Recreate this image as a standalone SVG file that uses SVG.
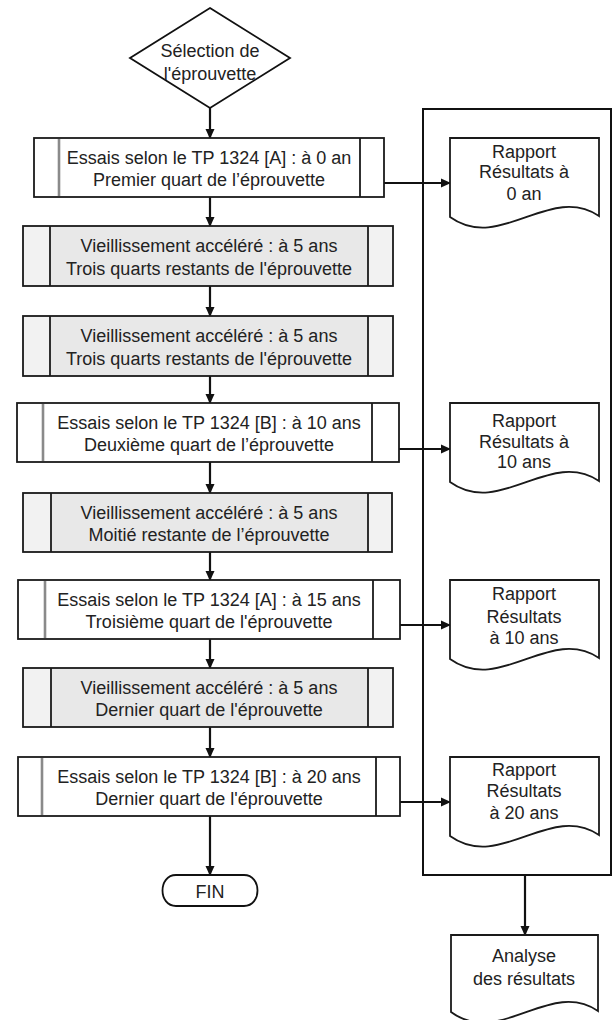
<svg xmlns="http://www.w3.org/2000/svg" width="616" height="1020" viewBox="0 0 616 1020">
<defs>
<style>
text{font-family:"Liberation Sans",Arial,sans-serif;font-size:18px;fill:#222;text-anchor:middle}
.outer{stroke:#1a1a1a;stroke-width:1.8}
.essai{fill:#fff}
.vieil{fill:#e8e8e8}
.strip{fill:#f2f2f2;stroke:none}
.dk{stroke:#1a1a1a;stroke-width:1.8}
.gr{stroke:#8a8a8a;stroke-width:2.6}
.doc{fill:#fff;stroke:#1a1a1a;stroke-width:1.8}
.con{fill:none;stroke:#111;stroke-width:1.8}
.conv{fill:none;stroke:#111;stroke-width:2.2}
</style>
<marker id="ah" markerWidth="10" markerHeight="10" refX="9" refY="5" orient="auto" markerUnits="userSpaceOnUse"><path d="M0,0.5 L10,5 L0,9.5 z" fill="#111"/></marker>
</defs>
<rect width="616" height="1020" fill="#fff"/>

<g id="groupe-rapports">
<rect x="423" y="109" width="188" height="766" fill="none" stroke="#111" stroke-width="2"/>
</g>

<g id="connectors">
<line class="conv" x1="210" y1="108" x2="210" y2="138" marker-end="url(#ah)"/>
<line class="conv" x1="210" y1="197" x2="210" y2="226" marker-end="url(#ah)"/>
<line class="conv" x1="210" y1="286" x2="210" y2="316" marker-end="url(#ah)"/>
<line class="conv" x1="210" y1="376" x2="210" y2="403" marker-end="url(#ah)"/>
<line class="conv" x1="210" y1="462" x2="210" y2="493" marker-end="url(#ah)"/>
<line class="conv" x1="210" y1="552" x2="210" y2="580" marker-end="url(#ah)"/>
<line class="conv" x1="210" y1="639" x2="210" y2="668" marker-end="url(#ah)"/>
<line class="conv" x1="210" y1="727" x2="210" y2="757" marker-end="url(#ah)"/>
<line class="conv" x1="210" y1="816" x2="210" y2="875" marker-end="url(#ah)"/>
<line class="con" x1="384" y1="183" x2="450" y2="183" marker-end="url(#ah)"/>
<line class="con" x1="399" y1="449" x2="450" y2="449" marker-end="url(#ah)"/>
<line class="con" x1="400" y1="625" x2="450" y2="625" marker-end="url(#ah)"/>
<line class="con" x1="400" y1="802" x2="450" y2="802" marker-end="url(#ah)"/>
<line class="conv" x1="525" y1="875" x2="525" y2="935" marker-end="url(#ah)"/>
</g>

<g id="selection">
<polygon points="210,8 290,58 210,108 130,58" fill="#fff" stroke="#111" stroke-width="1.8"/>
<text x="210" y="56.5">Sélection de</text>
<text x="210" y="79.5">l'éprouvette</text>
</g>

<g id="essai-0">
<rect class="outer essai" x="34" y="138" width="350" height="59"/>
<line class="gr" x1="59" y1="139" x2="59" y2="196"/>
<line class="dk" x1="360" y1="138" x2="360" y2="197"/>
<text x="209" y="164">Essais selon le TP 1324 [A] : à 0 an</text>
<text x="209" y="186">Premier quart de l’éprouvette</text>
</g>

<g id="vieil-1">
<rect class="outer vieil" x="23" y="226" width="370" height="60"/>
<rect class="strip" x="24" y="227" width="26" height="58"/>
<rect class="strip" x="368" y="227" width="24" height="58"/>
<line class="dk" x1="50" y1="226" x2="50" y2="286"/>
<line class="dk" x1="368" y1="226" x2="368" y2="286"/>
<text x="209" y="252">Vieillissement accéléré : à 5 ans</text>
<text x="209" y="275">Trois quarts restants de l'éprouvette</text>
</g>

<g id="vieil-2">
<rect class="outer vieil" x="23" y="316" width="370" height="60"/>
<rect class="strip" x="24" y="317" width="26" height="58"/>
<rect class="strip" x="368" y="317" width="24" height="58"/>
<line class="dk" x1="50" y1="316" x2="50" y2="376"/>
<line class="dk" x1="368" y1="316" x2="368" y2="376"/>
<text x="209" y="342">Vieillissement accéléré : à 5 ans</text>
<text x="209" y="365">Trois quarts restants de l'éprouvette</text>
</g>

<g id="essai-10">
<rect class="outer essai" x="17" y="403" width="382" height="59"/>
<line class="gr" x1="43" y1="404" x2="43" y2="461"/>
<line class="dk" x1="372" y1="403" x2="372" y2="462"/>
<text x="209" y="429">Essais selon le TP 1324 [B] : à 10 ans</text>
<text x="209" y="451">Deuxième quart de l’éprouvette</text>
</g>

<g id="vieil-3">
<rect class="outer vieil" x="23" y="493" width="369" height="59"/>
<rect class="strip" x="24" y="494" width="27" height="57"/>
<rect class="strip" x="368" y="494" width="23" height="57"/>
<line class="dk" x1="51" y1="493" x2="51" y2="552"/>
<line class="dk" x1="368" y1="493" x2="368" y2="552"/>
<text x="209" y="519">Vieillissement accéléré : à 5 ans</text>
<text x="209" y="541">Moitié restante de l’éprouvette</text>
</g>

<g id="essai-15">
<rect class="outer essai" x="18" y="580" width="382" height="59"/>
<line class="gr" x1="45" y1="581" x2="45" y2="638"/>
<line class="dk" x1="373" y1="580" x2="373" y2="639"/>
<text x="209" y="606">Essais selon le TP 1324 [A] : à 15 ans</text>
<text x="209" y="628">Troisième quart de l'éprouvette</text>
</g>

<g id="vieil-4">
<rect class="outer vieil" x="23" y="668" width="370" height="59"/>
<rect class="strip" x="24" y="669" width="27" height="57"/>
<rect class="strip" x="368" y="669" width="24" height="57"/>
<line class="dk" x1="51" y1="668" x2="51" y2="727"/>
<line class="dk" x1="368" y1="668" x2="368" y2="727"/>
<text x="209" y="694">Vieillissement accéléré : à 5 ans</text>
<text x="209" y="716">Dernier quart de l'éprouvette</text>
</g>

<g id="essai-20">
<rect class="outer essai" x="18" y="757" width="382" height="59"/>
<line class="gr" x1="42" y1="758" x2="42" y2="815"/>
<line class="dk" x1="376" y1="757" x2="376" y2="816"/>
<text x="209" y="783">Essais selon le TP 1324 [B] : à 20 ans</text>
<text x="209" y="805">Dernier quart de l'éprouvette</text>
</g>

<g id="fin">
<path d="M176,875 H244 C262,875 262,906 244,906 H176 C158,906 158,875 176,875 Z" fill="#fff" stroke="#111" stroke-width="1.8"/>
<text x="210" y="897.5">FIN</text>
</g>

<g id="rapport-0">
<path class="doc" d="M450,138 H599 V216 C550,183 500,253 450,217 Z"/>
<text x="524" y="157.5">Rapport</text>
<text x="524" y="178">Résultats à</text>
<text x="524" y="199.5">0 an</text>
</g>

<g id="rapport-10">
<path class="doc" d="M450,403 H599 V481 C550,448 500,518 450,482 Z"/>
<text x="524" y="426.5">Rapport</text>
<text x="524" y="448">Résultats à</text>
<text x="524" y="468">10 ans</text>
</g>

<g id="rapport-15">
<path class="doc" d="M450,580 H599 V658 C550,625 500,695 450,659 Z"/>
<text x="524" y="600">Rapport</text>
<text x="524" y="622.5">Résultats</text>
<text x="524" y="643.5">à 10 ans</text>
</g>

<g id="rapport-20">
<path class="doc" d="M450,757 H599 V835 C550,802 500,872 450,836 Z"/>
<text x="524" y="775.5">Rapport</text>
<text x="524" y="796.5">Résultats</text>
<text x="524" y="818.5">à 20 ans</text>
</g>

<g id="analyse">
<path class="doc" d="M451,935 H598 V1011 C550,978 500,1048 451,1012 Z"/>
<text x="524" y="961.5">Analyse</text>
<text x="524" y="984.5">des résultats</text>
</g>
</svg>
